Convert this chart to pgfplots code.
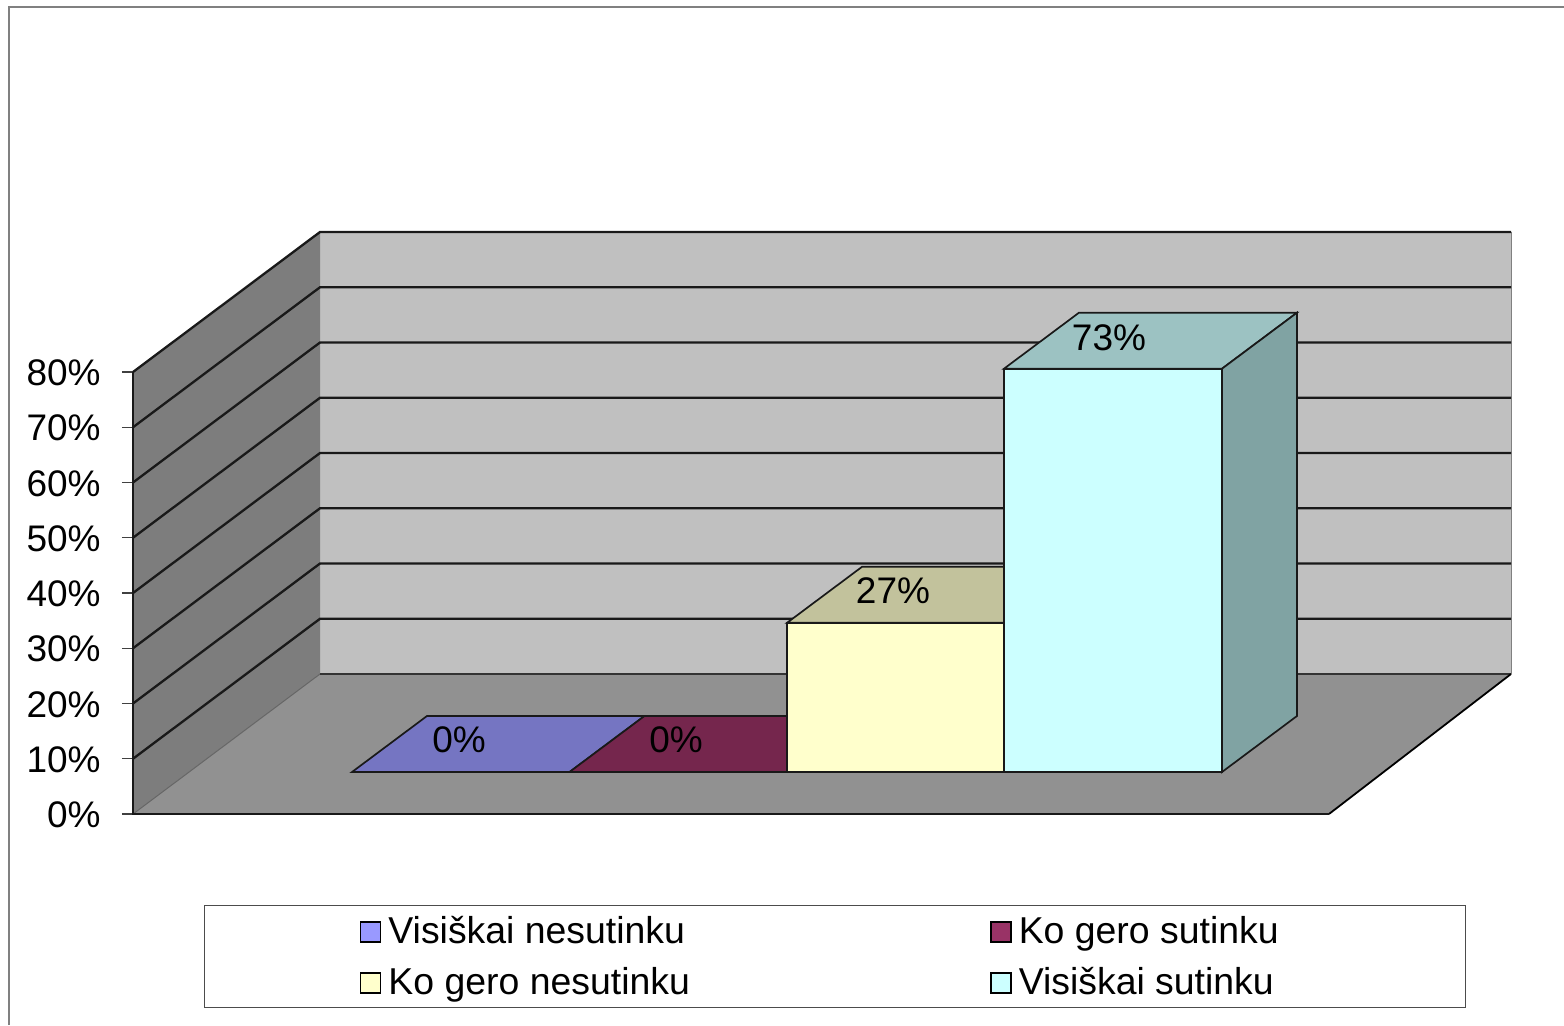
\documentclass[border=0pt]{standalone}
\usepackage{fontspec}
\setmainfont{Liberation Sans}
\usepackage{pgfplots}
\pgfplotsset{compat=1.18}
\newcommand\lbl{\fontsize{18.5pt}{22pt}\selectfont}
\newcommand\leg[1]{\makebox[226.75pt][l]{\hspace{3.5pt}\fontsize{18.7pt}{22pt}\selectfont #1}}
\definecolor{wall}{HTML}{C0C0C0}
\definecolor{sidewall}{HTML}{7D7D7D}
\definecolor{floorc}{HTML}{919191}
\definecolor{blueF}{HTML}{9999FF}
\definecolor{blueT}{HTML}{7575C2}
\definecolor{wineF}{HTML}{993366}
\definecolor{wineT}{HTML}{75264D}
\definecolor{yelF}{HTML}{FFFFCC}
\definecolor{yelT}{HTML}{C2C29C}
\definecolor{cyanF}{HTML}{CCFFFF}
\definecolor{cyanT}{HTML}{9CC2C2}
\definecolor{cyanS}{HTML}{80A3A3}
\begin{document}
\begin{tikzpicture}
\useasboundingbox (-66.5pt,-105.5pt) rectangle (715.5pt,407pt);
\begin{axis}[
  scale only axis,
  width=689pt, height=291pt,
  at={(0pt,0pt)}, anchor=south west,
  xmin=0, xmax=1378,
  ymin=0, ymax=105.34,
  clip=false,
  axis line style={draw=none},
  xtick=\empty,
  ytick={0,10,...,80},
  ytick pos=left,
  tick align=outside,
  major tick length=5.5pt,
  ytick style={draw=black!75, line width=0.6pt},
  yticklabel={\pgfmathprintnumber{\tick}\%},
  /pgf/number format/assume math mode=true,
  yticklabel style={font=\lbl, inner sep=0pt, xshift=-10.5pt, yshift=-0.4pt},
  legend columns=2,
  legend image code/.code={\path[draw=none,fill=none] (0pt,-5.5pt) -- (88pt,-5.5pt);\draw[line width=0.85pt,#1] (78pt,-5.5pt) rectangle (88pt,4.5pt);},
  legend style={
    at={(axis cs:71,-16.47)}, anchor=north west,
    draw=black!70, line width=0.6pt, inner sep=0pt, font=\lbl,
    column sep=0pt, row sep=0pt,
    nodes={inner sep=0pt, text height=19pt, text depth=6.5pt},
  },
  legend cell align=left,
  poly/.style={forget plot, line width=0.85pt, draw=black!90},
  grid line/.style={forget plot, line width=1.15pt, draw=black!90},
]
% chart frame
\addplot[forget plot, draw=black!50, line width=0.75pt] coordinates {(-124,-38.2) (-124,146.06) (1431,146.06)};
% walls and floor
\addplot[forget plot, fill=wall, draw=none] coordinates {(187,25.34) (1378,25.34) (1378,105.34) (187,105.34)} --cycle;
\addplot[forget plot, fill=sidewall, draw=none] coordinates {(0,0) (187,25.34) (187,105.34) (0,80)} --cycle;
\addplot[forget plot, fill=floorc, draw=none] coordinates {(0,0) (1196,0) (1378,25.34) (187,25.34)} --cycle;
\addplot[forget plot, draw=black!50, line width=0.5pt] coordinates {(1378,25.34) (1378,105.34)};
\addplot[forget plot, draw=black!60, line width=0.5pt] coordinates {(0,0) (187,25.34)};
\addplot[forget plot, draw=black!80, line width=0.7pt] coordinates {(187,25.34) (1378,25.34)};
\addplot[forget plot, draw=black, line width=0.9pt] coordinates {(1378,25.34) (1196,0)};
% gridlines
\addplot[grid line] coordinates {(0,10) (187,35.34) (1378,35.34)};
\addplot[grid line] coordinates {(0,20) (187,45.34) (1378,45.34)};
\addplot[grid line] coordinates {(0,30) (187,55.34) (1378,55.34)};
\addplot[grid line] coordinates {(0,40) (187,65.34) (1378,65.34)};
\addplot[grid line] coordinates {(0,50) (187,75.34) (1378,75.34)};
\addplot[grid line] coordinates {(0,60) (187,85.34) (1378,85.34)};
\addplot[grid line] coordinates {(0,70) (187,95.34) (1378,95.34)};
\addplot[grid line] coordinates {(0,80) (187,105.34) (1378,105.34)};
% axis lines
\addplot[forget plot, draw=black!90, line width=1.2pt] coordinates {(0,80) (0,0) (1196,0)};
% 0% bars
\addplot[poly, fill=blueT] coordinates {(219,7.6) (436.5,7.6) (511.5,17.74) (294,17.74)} --cycle;
\addplot[poly, fill=wineT] coordinates {(436.5,7.6) (654,7.6) (729,17.74) (511.5,17.74)} --cycle;
% 27% bar
\addplot[poly, fill=yelT] coordinates {(654,34.6) (871,34.6) (946,44.74) (729,44.74)} --cycle;
\addplot[poly, fill=yelF] coordinates {(654,7.6) (871,7.6) (871,34.6) (654,34.6)} --cycle;
% 73% bar
\addplot[poly, fill=cyanT] coordinates {(871,80.6) (1089,80.6) (1164,90.74) (946,90.74)} --cycle;
\addplot[poly, fill=cyanS] coordinates {(1089,7.6) (1164,17.74) (1164,90.74) (1089,80.6)} --cycle;
\addplot[poly, fill=cyanF] coordinates {(871,7.6) (1089,7.6) (1089,80.6) (871,80.6)} --cycle;
% value labels
\addplot[forget plot, only marks, mark=none, point meta=explicit,
  nodes near coords={\pgfmathprintnumber{\pgfplotspointmeta}\%},
  nodes near coords style={anchor=center, font=\lbl, inner sep=0pt}]
  table[x=x, y=y, meta=v] {
x y v
326 13.4 0
543 13.4 0
760 40.4 27
976 86.2 73
};
\addlegendimage{fill=blueF}
\addlegendentry{\leg{Visiškai nesutinku}}
\addlegendimage{fill=wineF}
\addlegendentry{\leg{Ko gero sutinku}}
\addlegendimage{fill=yelF}
\addlegendentry{\leg{Ko gero nesutinku}}
\addlegendimage{fill=cyanF}
\addlegendentry{\leg{Visiškai sutinku}}
\end{axis}
\end{tikzpicture}
\end{document}
